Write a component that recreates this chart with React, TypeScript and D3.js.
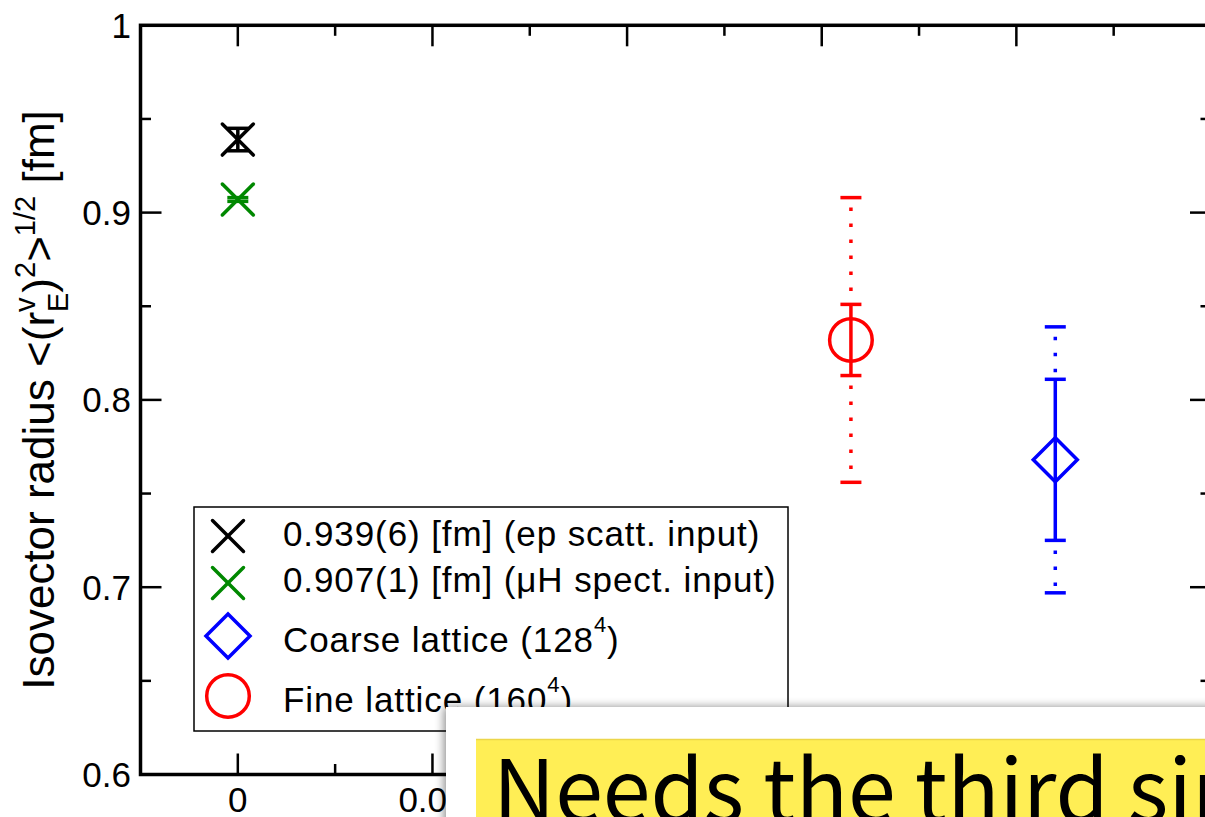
import React from "react";
import * as d3 from "d3";

// ---------- data ----------
const inputLabels = ["0.939(6) [fm] (ep scatt. input)", "0.907(1) [fm] (\u03bcH spect. input)"];
const inputValues = [0.939, 0.907];
const inputErrors = [0.006, 0.001];
const inputX = [0, 0];

const latticeNames = ["Coarse lattice", "Fine lattice"];
const latticeVolumes = ["128", "160"];
const latticeSpacing = [0.084, 0.063];
const latticeValues = [0.768, 0.832];
const latticeStatErr = [0.043, 0.019];
const latticeTotalErr = [0.071, 0.076];

const xMajorTicks = [0, 0.02, 0.04, 0.06, 0.08, 0.1];
const xTickLabels = ["0", "0.02", "0.04", "0.06", "0.08", "0.1"];
const xMinorTicks = [-0.01, 0.01, 0.03, 0.05, 0.07, 0.09];
const yMajorTicks = [0.6, 0.7, 0.8, 0.9, 1.0];
const yTickLabels = ["0.6", "0.7", "0.8", "0.9", "1"];
const yMinorTicks = [0.65, 0.75, 0.85, 0.95];

const overlayText = "Needs the third simulation";

// ---------- styles ----------
const W = 1205;
const H = 817;
const FONT = "'Liberation Sans', Arial, Helvetica, sans-serif";
const inputColors = ["#000000", "#008800"];
const latticeColors = ["#0000ff", "#ff0000"];
const latticeShapes = ["diamond", "circle"];

const L = 140.5, R = 1211, T = 25.3, B = 774.5;

export default function App() {
  const x = d3.scaleLinear().domain([-0.01, 0.1]).range([L, R]);
  const y = d3.scaleLinear().domain([0.6, 1.0]).range([B, T]);

  const cap = 10.5;
  const sw = 3.5;

  const xMarker = (cx: number, cy: number, h: number, color: string, key: string) => (
    <g key={key} stroke={color} strokeWidth={3.5} strokeLinecap="round">
      <line x1={cx - h} y1={cy - h} x2={cx + h} y2={cy + h} />
      <line x1={cx - h} y1={cy + h} x2={cx + h} y2={cy - h} />
    </g>
  );

  const shape = (kind: string, cx: number, cy: number, color: string, key: string) =>
    kind === "circle" ? (
      <circle key={key} cx={cx} cy={cy} r={21.3} fill="none" stroke={color} strokeWidth={3.5} />
    ) : (
      <path
        key={key}
        d={`M${cx - 22} ${cy} L${cx} ${cy - 22} L${cx + 22} ${cy} L${cx} ${cy + 22} Z`}
        fill="none"
        stroke={color}
        strokeWidth={3.5}
      />
    );

  const legendRows = [536, 583, 636, 696];
  const legendBase = [546, 592, 652, 712];

  return (
    <svg
      width={W}
      height={H}
      viewBox={`0 0 ${W} ${H}`}
      style={{ position: "absolute", left: 0, top: 0, display: "block", background: "#fff" }}
      fontFamily={FONT}
    >
      <defs>
        <filter id="shadow" x="-10%" y="-20%" width="130%" height="150%">
          <feDropShadow dx={-2} dy={0} stdDeviation={5} floodColor="#000" floodOpacity={0.45} />
        </filter>
      </defs>
      <rect x={0} y={0} width={W} height={H} fill="#fff" />

      {/* ticks */}
      <g stroke="#000" strokeWidth={2.5}>
        {xMajorTicks.map((t, i) => (
          <g key={"xM" + i}>
            <line x1={x(t)} x2={x(t)} y1={B} y2={B - 21} />
            <line x1={x(t)} x2={x(t)} y1={T} y2={T + 21} />
          </g>
        ))}
        {xMinorTicks.map((t, i) => (
          <g key={"xm" + i}>
            <line x1={x(t)} x2={x(t)} y1={B} y2={B - 10.5} />
            <line x1={x(t)} x2={x(t)} y1={T} y2={T + 10.5} />
          </g>
        ))}
        {yMajorTicks.map((t, i) => (
          <g key={"yM" + i}>
            <line x1={L} x2={L + 21} y1={y(t)} y2={y(t)} />
            <line x1={R} x2={R - 21} y1={y(t)} y2={y(t)} />
          </g>
        ))}
        {yMinorTicks.map((t, i) => (
          <g key={"ym" + i}>
            <line x1={L} x2={L + 10.5} y1={y(t)} y2={y(t)} />
            <line x1={R} x2={R - 10.5} y1={y(t)} y2={y(t)} />
          </g>
        ))}
      </g>
      <rect x={L} y={T} width={R - L} height={B - T} fill="none" stroke="#000" strokeWidth={3.5} />

      {/* tick labels */}
      <g fontSize={35} fill="#000">
        {yMajorTicks.map((t, i) => (
          <text key={"yl" + i} x={131} y={y(t) + 12.5} textAnchor="end">
            {yTickLabels[i]}
          </text>
        ))}
        {xMajorTicks.map((t, i) => (
          <text key={"xl" + i} x={x(t)} y={812} textAnchor="middle">
            {xTickLabels[i]}
          </text>
        ))}
      </g>

      {/* y axis label */}
      <text transform="translate(54,400) rotate(-90)" textAnchor="middle" fontSize={44} fill="#000">
        Isovector radius &lt;(r
        <tspan fontSize={29} dy={-19}>v</tspan>
        <tspan fontSize={29} dx={-14.5} dy={33}>E</tspan>
        <tspan dy={-14}>)</tspan>
        <tspan fontSize={29} dy={-19}>2</tspan>
        <tspan dy={19}>&gt;</tspan>
        <tspan fontSize={29} dy={-19}>1/2</tspan>
        <tspan dy={19}> [fm]</tspan>
      </text>

      {/* input points */}
      {inputValues.map((v, i) => {
        const cx = x(inputX[i]);
        const cy = y(v);
        const y1 = y(v + inputErrors[i]);
        const y2 = y(v - inputErrors[i]);
        return (
          <g key={"in" + i}>
            <g stroke={inputColors[i]} strokeWidth={sw}>
              <line x1={cx} x2={cx} y1={y1} y2={y2} />
              <line x1={cx - cap} x2={cx + cap} y1={y1} y2={y1} />
              <line x1={cx - cap} x2={cx + cap} y1={y2} y2={y2} />
            </g>
            {xMarker(cx, cy, 15.5, inputColors[i], "xm" + i)}
          </g>
        );
      })}

      {/* lattice points */}
      {latticeValues.map((v, i) => {
        const cx = x(latticeSpacing[i]);
        const cy = y(v);
        const s1 = y(v + latticeStatErr[i]);
        const s2 = y(v - latticeStatErr[i]);
        const t1 = y(v + latticeTotalErr[i]);
        const t2 = y(v - latticeTotalErr[i]);
        const c = latticeColors[i];
        return (
          <g key={"lat" + i}>
            <g stroke={c} strokeWidth={sw}>
              <line x1={cx} x2={cx} y1={t1} y2={s1} strokeDasharray="3.5 12.5" strokeDashoffset={-10} />
              <line x1={cx} x2={cx} y1={s2} y2={t2} strokeDasharray="3.5 12.5" strokeDashoffset={-10} />
              <line x1={cx} x2={cx} y1={s1} y2={s2} />
              {[s1, s2, t1, t2].map((yy, k) => (
                <line key={k} x1={cx - cap} x2={cx + cap} y1={yy} y2={yy} />
              ))}
            </g>
            {shape(latticeShapes[i], cx, cy, c, "sh" + i)}
          </g>
        );
      })}

      {/* legend */}
      <rect x={194} y={507} width={594} height={224} fill="#fff" stroke="#000" strokeWidth={1.5} />
      {inputLabels.map((lab, i) => (
        <g key={"lg" + i}>
          {xMarker(228, legendRows[i], 15.5, inputColors[i], "lx" + i)}
          <text x={283} y={legendBase[i]} fontSize={35} letterSpacing={0.9} fill="#000">
            {lab}
          </text>
        </g>
      ))}
      {latticeNames.map((n, j) => {
        const i = j + 2;
        return (
          <g key={"lgl" + j}>
            {shape(latticeShapes[j], 228, legendRows[i], latticeColors[j], "ls" + j)}
            <text x={283} y={legendBase[i]} fontSize={35} letterSpacing={0.9} fill="#000">
              {n} ({latticeVolumes[j]}
              <tspan fontSize={22} dy={-20}>4</tspan>
              <tspan dy={20}>)</tspan>
            </text>
          </g>
        );
      })}

      {/* overlay panel */}
      <rect x={446} y={707} width={900} height={200} fill="#fff" filter="url(#shadow)" />
      <rect x={476} y={739} width={900} height={200} fill="#ffee55" />
      <line x1={476} x2={1300} y1={739.5} y2={739.5} stroke="#ecd64a" strokeWidth={1.5} />
      <text x={493} y={822} fontSize={86} fill="#000" fontFamily="'Noto Sans CJK JP', 'Noto Sans', sans-serif">
        {overlayText}
      </text>
    </svg>
  );
}
